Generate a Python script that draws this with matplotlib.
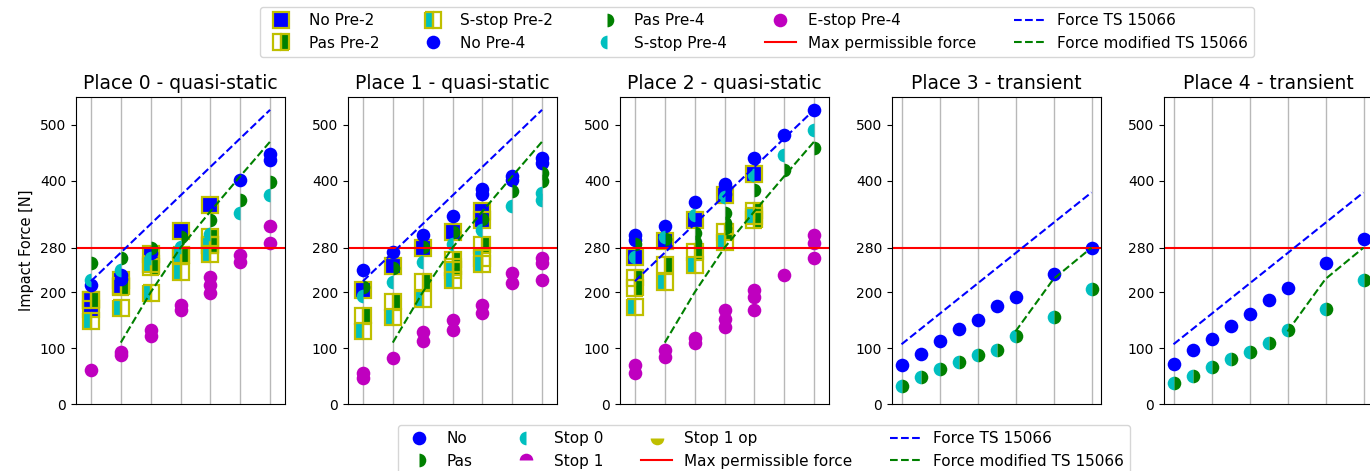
import matplotlib
matplotlib.use("Agg")
import matplotlib.pyplot as plt
from matplotlib.lines import Line2D

TITLES = ["Place 0 - quasi-static", "Place 1 - quasi-static", "Place 2 - quasi-static",
          "Place 3 - transient", "Place 4 - transient"]
Y_TICKS = [0, 100, 200, 280, 400, 500]
MAX_FORCE = 280

# quasi-static places: 7 speed steps, each entry holds the repeated measurements
P0_NO_PRE2 = [[186, 171], [222, 212], [268], [310], [357], [], []]
P0_PAS_PRE2 = [[186], [210], [245], [265], [300, 285], [], []]
P0_SSTOP_PRE2 = [[148], [172], [198, 250], [267, 236], [285, 268], [], []]
P0_NO_PRE4 = [[213], [232, 224], [270], [], [], [401], [447, 438]]
P0_PAS_PRE4 = [[252], [261], [279], [300], [329], [366], [398]]
P0_SSTOP_PRE4 = [[222], [240], [261], [281], [305], [342], [374]]
P0_ESTOP_PRE4 = [[61], [93, 88], [132, 122], [177, 168], [228, 213, 199], [267, 254], [318, 289]]

P1_NO_PRE2 = [[205], [248], [279], [309], [345, 330], [], []]
P1_PAS_PRE2 = [[157], [183], [219], [258, 245], [284], [], []]
P1_SSTOP_PRE2 = [[130], [155], [189], [240, 222], [262, 250], [], []]
P1_NO_PRE4 = [[240], [273], [303], [336], [386, 377], [408, 401], [440, 431]]
P1_PAS_PRE4 = [[210], [243], [281], [309], [332], [381], [413, 399]]
P1_SSTOP_PRE4 = [[194], [219], [254], [287], [312], [354], [378, 366]]
P1_ESTOP_PRE4 = [[55, 46], [83], [129, 112], [150, 133], [177, 163], [234, 216], [261, 252, 222]]

P2_NO_PRE2 = [[264], [292], [329], [374], [412], [], []]
P2_PAS_PRE2 = [[226, 208], [249], [273], [308], [345, 330], [], []]
P2_SSTOP_PRE2 = [[174], [219], [249], [290], [337], [], []]
P2_NO_PRE4 = [[303, 294], [318], [361], [395, 386, 377], [440], [482], [527]]
P2_PAS_PRE4 = [[286], [296], [306, 291], [342, 324, 315], [384], [419], [458]]
P2_SSTOP_PRE4 = [[264], [300], [339], [371], [410], [446], [491]]
P2_ESTOP_PRE4 = [[70, 55], [97, 85], [118, 109], [168, 153, 138], [204, 192, 168], [231], [302, 289, 262]]

# transient places: one value per speed step
SPEED_T = [0, 0.5, 1, 1.5, 2, 2.5, 3, 4, 5]
P3_NO = [69, 90, 112, 135, 151, 176, 191, 233, 280]
P3_STOP = [32, 48, 62, 76, 88, 97, 121, 155, 206]
P4_NO = [72, 96, 116, 139, 161, 186, 207, 252, 295]
P4_STOP = [38, 50, 67, 80, 93, 110, 133, 171, 222]

# limit curves
TS_X_QS = [0, 6]
TS_Y_QS = [220, 527]
MOD_X_QS = [1, 2, 3, 4, 5, 6]
MOD_Y_QS = [110, 200, 280, 345, 408, 470]
TS_X_TR = [0, 5]
TS_Y_TR = [107, 379]
MOD_X_TR = [3, 4, 5]
MOD_Y_TR = [130, 224, 280]


def flat(groups):
    xs, ys = [], []
    for i, vals in enumerate(groups):
        for v in vals:
            xs.append(i)
            ys.append(v)
    return xs, ys


SQ = dict(marker='s', ls='none', ms=11.5, mew=1.6, mec='y')
CI = dict(marker='o', ls='none', ms=9.8, mec='none')

W, H = 1370, 471
fig = plt.figure(figsize=(W / 100, H / 100), dpi=100)

quasi = [
    (P0_NO_PRE2, P0_PAS_PRE2, P0_SSTOP_PRE2, P0_NO_PRE4, P0_PAS_PRE4, P0_SSTOP_PRE4, P0_ESTOP_PRE4),
    (P1_NO_PRE2, P1_PAS_PRE2, P1_SSTOP_PRE2, P1_NO_PRE4, P1_PAS_PRE4, P1_SSTOP_PRE4, P1_ESTOP_PRE4),
    (P2_NO_PRE2, P2_PAS_PRE2, P2_SSTOP_PRE2, P2_NO_PRE4, P2_PAS_PRE4, P2_SSTOP_PRE4, P2_ESTOP_PRE4),
]
trans = [(P3_NO, P3_STOP), (P4_NO, P4_STOP)]

axes = []
for i in range(5):
    left = 76 + 272 * i
    ax = fig.add_axes([left / W, (H - 404) / H, 209 / W, 307 / H])
    axes.append(ax)
    ax.set_title(TITLES[i], fontsize=13.5)
    ax.set_ylim(0, 550)
    ax.set_yticks(Y_TICKS)
    ax.tick_params(axis='y', labelsize=10)
    ax.tick_params(axis='x', length=0, labelbottom=False)
    ax.grid(axis='x', color='#b8b8b8', lw=1)
    ax.set_axisbelow(True)

    if i < 3:
        no2, pas2, ss2, no4, pas4, ss4, es4 = quasi[i]
        ax.set_xlim(-0.5, 6.5)
        ax.set_xticks(range(7))
        ax.plot(*flat(no2), mfc='b', **SQ)
        ax.plot(*flat(pas2), mfc='g', fillstyle='right', **SQ)
        ax.plot(*flat(ss2), mfc='c', fillstyle='left', **SQ)
        ax.plot(*flat(no4), mfc='b', **CI)
        ax.plot(*flat(pas4), mfc='g', fillstyle='right', **CI)
        ax.plot(*flat(ss4), mfc='c', fillstyle='left', **CI)
        ax.plot(*flat(es4), mfc='m', **CI)
        ax.axhline(MAX_FORCE, color='r', lw=1.5)
        ax.plot(TS_X_QS, TS_Y_QS, 'b--', lw=1.5)
        ax.plot(MOD_X_QS, MOD_Y_QS, 'g--', lw=1.5)
    else:
        no, stop = trans[i - 3]
        ax.set_xlim(-0.25, 5.25)
        ax.set_xticks(range(6))
        ax.plot(SPEED_T, no, mfc='b', **CI)
        ax.plot(SPEED_T, stop, mfc='c', mfcalt='g', fillstyle='left', **CI)
        ax.axhline(MAX_FORCE, color='r', lw=1.5)
        ax.plot(TS_X_TR, TS_Y_TR, 'b--', lw=1.5)
        ax.plot(MOD_X_TR, MOD_Y_TR, 'g--', lw=1.5)

axes[0].set_ylabel("Impact Force [N]", fontsize=10.5)

top_handles = [
    Line2D([], [], mfc='b', label="No Pre-2", **SQ),
    Line2D([], [], mfc='g', fillstyle='right', label="Pas Pre-2", **SQ),
    Line2D([], [], mfc='c', fillstyle='left', label="S-stop Pre-2", **SQ),
    Line2D([], [], mfc='b', label="No Pre-4", **CI),
    Line2D([], [], mfc='g', fillstyle='right', label="Pas Pre-4", **CI),
    Line2D([], [], mfc='c', fillstyle='left', label="S-stop Pre-4", **CI),
    Line2D([], [], mfc='m', label="E-stop Pre-4", **CI),
    Line2D([], [], color='r', lw=1.5, label="Max permissible force"),
    Line2D([], [], color='b', ls='--', lw=1.5, label="Force TS 15066"),
    Line2D([], [], color='g', ls='--', lw=1.5, label="Force modified TS 15066"),
]
fig.legend(handles=top_handles, loc='upper center', bbox_to_anchor=(757 / W, 1 - 7 / H),
           ncol=5, fontsize=11, columnspacing=2.5, borderaxespad=0)

bot_handles = [
    Line2D([], [], mfc='b', label="No", **CI),
    Line2D([], [], mfc='g', fillstyle='right', label="Pas", **CI),
    Line2D([], [], mfc='c', fillstyle='left', label="Stop 0", **CI),
    Line2D([], [], mfc='m', fillstyle='top', label="Stop 1", **CI),
    Line2D([], [], mfc='y', fillstyle='bottom', label="Stop 1 op", **CI),
    Line2D([], [], color='r', lw=1.5, label="Max permissible force"),
    Line2D([], [], color='b', ls='--', lw=1.5, label="Force TS 15066"),
    Line2D([], [], color='g', ls='--', lw=1.5, label="Force modified TS 15066"),
]
fig.legend(handles=bot_handles, loc='upper center', bbox_to_anchor=(764 / W, 1 - 425 / H),
           ncol=4, fontsize=11, columnspacing=2.5, borderaxespad=0)

fig.savefig("out.png", dpi=100)
